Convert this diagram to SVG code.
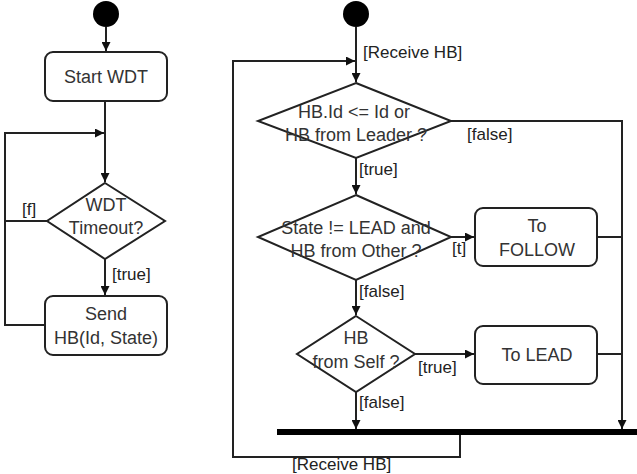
<svg xmlns="http://www.w3.org/2000/svg" width="637" height="474" viewBox="0 0 637 474">
<defs>
<marker id="ah" viewBox="0 0 10 10" refX="10" refY="5" markerWidth="9" markerHeight="9" markerUnits="userSpaceOnUse" orient="auto">
<path d="M0,0 L10,5 L0,10 z" fill="#111"/>
</marker>
<style>
.n{fill:#fff;stroke:#222;stroke-width:2}
.c{fill:none;stroke:#222;stroke-width:2}
.t{font-family:"Liberation Sans",Arial,sans-serif;font-size:18px;fill:#333;text-anchor:middle}
.l{font-family:"Liberation Sans",Arial,sans-serif;font-size:17px;fill:#222;text-anchor:start}
</style>
</defs>
<rect width="637" height="474" fill="#fff"/>
<g id="connectors">
<path class="c" d="M106,27 V51" marker-end="url(#ah)"/>
<path class="c" d="M105,101 V182" marker-end="url(#ah)"/>
<path class="c" d="M45,325 H5 V133 H104" marker-end="url(#ah)"/>
<path class="c" d="M47,221 H5"/>
<path class="c" d="M105,259 V295" marker-end="url(#ah)"/>
<path class="c" d="M356,27 V82" marker-end="url(#ah)"/>
<path class="c" d="M460,433 V457 H233 V61 H355" marker-end="url(#ah)"/>
<path class="c" d="M451,121 H622 V429" marker-end="url(#ah)"/>
<path class="c" d="M356,158 V194" marker-end="url(#ah)"/>
<path class="c" d="M451,237 H474" marker-end="url(#ah)"/>
<path class="c" d="M597,237 H622"/>
<path class="c" d="M356,280 V315" marker-end="url(#ah)"/>
<path class="c" d="M415,354 H474" marker-end="url(#ah)"/>
<path class="c" d="M597,354 H622"/>
<path class="c" d="M356,392 V429" marker-end="url(#ah)"/>
<text class="l" x="22" y="215">[f]</text>
<text class="l" x="112" y="280">[true]</text>
<text class="l" x="363" y="58">[Receive HB]</text>
<text class="l" x="467" y="140">[false]</text>
<text class="l" x="359" y="175">[true]</text>
<text class="l" x="452" y="254">[t]</text>
<text class="l" x="359" y="297">[false]</text>
<text class="l" x="418" y="373">[true]</text>
<text class="l" x="359" y="408">[false]</text>
<text class="l" x="292" y="470">[Receive HB]</text>
</g>
<g id="start1"><circle cx="106" cy="14" r="13" fill="#000"/></g>
<g id="startWDT"><rect class="n" x="45" y="52" width="122" height="49" rx="8"/><text class="t" x="106" y="83">Start WDT</text></g>
<g id="wdtTimeout"><polygon class="n" points="105,183 165,221 105,259 47,221"/><text class="t" x="106" y="211">WDT</text><text class="t" x="106" y="234">Timeout?</text></g>
<g id="sendHB"><rect class="n" x="45" y="296" width="122" height="59" rx="8"/><text class="t" x="106" y="320">Send</text><text class="t" x="106" y="344">HB(Id, State)</text></g>
<g id="start2"><circle cx="356" cy="14" r="13" fill="#000"/></g>
<g id="dec1"><polygon class="n" points="356,83 451,121 356,158 258,121"/><text class="t" x="354" y="118">HB.Id &lt;= Id or</text><text class="t" x="356" y="141">HB from Leader ?</text></g>
<g id="dec2"><polygon class="n" points="356,195 451,237 356,280 258,237"/><text class="t" x="356" y="234">State != LEAD and</text><text class="t" x="356" y="257">HB from Other ?</text></g>
<g id="toFollow"><rect class="n" x="475" y="208" width="122" height="58" rx="8"/><text class="t" x="537" y="232">To</text><text class="t" x="537" y="256">FOLLOW</text></g>
<g id="dec3"><polygon class="n" points="356,316 415,354 356,392 297,354"/><text class="t" x="356" y="344">HB</text><text class="t" x="356" y="368">from Self ?</text></g>
<g id="toLead"><rect class="n" x="475" y="326" width="122" height="58" rx="8"/><text class="t" x="537" y="361">To LEAD</text></g>
<g id="join"><rect x="277" y="429" width="360" height="6" fill="#000"/></g>
</svg>
